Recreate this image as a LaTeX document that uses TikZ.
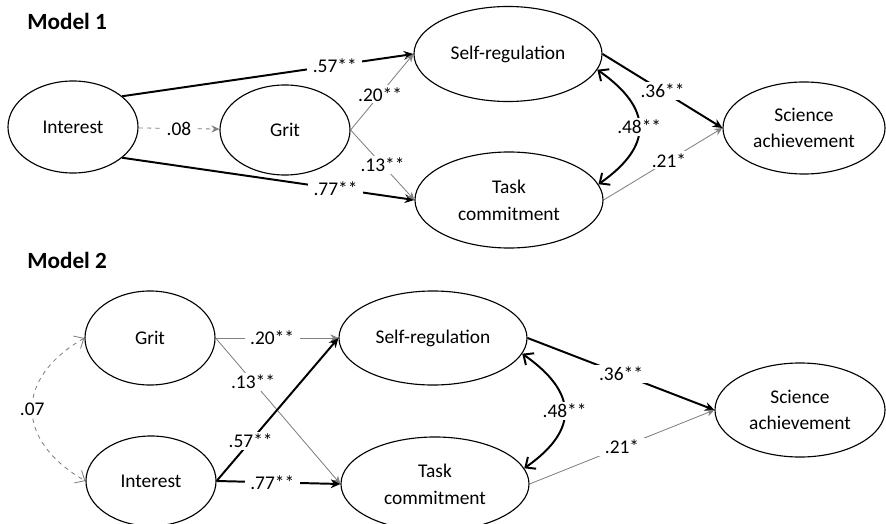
\documentclass[tikz,border=0pt]{standalone}
\usepackage{fontspec}
\setmainfont{Carlito}
\usetikzlibrary{shapes.geometric,arrows.meta}

\begin{document}
\begin{tikzpicture}[x=0.025cm, y=-0.025cm,
    every node/.style={font=\fontsize{13.8}{19}\selectfont},
    latent/.style={ellipse, draw, line width=0.8, inner sep=0pt, align=center},
    coef/.style={fill=white, text=black, inner xsep=4pt, inner ysep=1.5pt},
    strong/.style={-{Stealth[length=2.4mm, width=2.2mm]}, line width=1.4},
    weak/.style={-{Stealth[length=2mm, width=1.8mm]}, line width=0.6, color=gray},
    nonsig/.style={-{Stealth[length=2mm, width=1.8mm]}, dashed, line width=0.6, color=gray},
    covar/.style={{Straight Barb[length=2mm, width=3.6mm]}-{Straight Barb[length=2mm, width=3.6mm]}, line width=1.4},
    nscovar/.style={{Straight Barb[length=2mm, width=3.6mm]}-{Straight Barb[length=2mm, width=3.6mm]}, dashed, line width=0.6, color=gray},
    title/.style={font=\fontsize{16.5}{20}\selectfont\bfseries, anchor=base west, inner sep=0pt}]
      \useasboundingbox (0,0) rectangle (886,524);

      % Model 1
      \node [title] (t1) at (27,30) {Model 1};
      \node [latent, minimum width=3.25cm, minimum height=2.3cm] (int1) at (73,127) {Interest};
      \node [latent, minimum width=3.25cm, minimum height=2.25cm] (grit1) at (285,130) {Grit};
      \node [latent, minimum width=4.7cm, minimum height=2.375cm] (sr1) at (508,54) {Self-regulation};
      \node [latent, minimum width=4.7cm, minimum height=2.4cm] (tc1) at (509,200) {Task\\commitment};
      \node [latent, minimum width=4.05cm, minimum height=2.3cm] (sa1) at (804,128) {Science\\achievement};

      \draw [strong] (int1.32) -- node [coef, pos=0.73] {.57**} (sr1.west);
      \draw [strong] (int1.-32) -- node [coef, pos=0.73] {.77**} (tc1.west);
      \draw [nonsig] (int1) -- node [coef] {.08} (grit1);
      \draw [weak] (grit1.east) -- node [coef, pos=0.47] {.20**} (sr1.west);
      \draw [weak] (grit1.east) -- node [coef, pos=0.5] {.13**} (tc1.west);
      \draw [strong] (sr1.east) -- node [coef] {.36**} (sa1.west);
      \draw [weak] (tc1.east) -- node [coef, pos=0.55] {.21*} (sa1.west);
      \draw [covar] (sr1.-10) to [out=-35, in=35, looseness=1.5] node [coef] {.48**} (tc1.10);

      % Model 2
      \node [title] (t2) at (27,268) {Model 2};
      \node [latent, minimum width=3.25cm, minimum height=2.35cm] (grit2) at (150,338) {Grit};
      \node [latent, minimum width=3.25cm, minimum height=2.25cm] (int2) at (151,481) {Interest};
      \node [latent, minimum width=4.7cm, minimum height=2.35cm] (sr2) at (433,338) {Self-regulation};
      \node [latent, minimum width=4.7cm, minimum height=2.35cm] (tc2) at (435,484) {Task\\commitment};
      \node [latent, minimum width=4.25cm, minimum height=2.35cm] (sa2) at (800,410) {Science\\achievement};

      \draw [nscovar] (grit2.west) to [out=-150, in=150, looseness=1.45] node [coef] {.07} (int2.west);
      \draw [weak] (grit2.east) -- node [coef, pos=0.46] {.20**} (sr2.west);
      \draw [weak] (grit2.east) -- node [coef, pos=0.3] {.13**} (tc2.west);
      \draw [strong] (int2.east) -- node [coef, pos=0.28] {.57**} (sr2.west);
      \draw [strong] (int2.east) -- node [coef, pos=0.45] {.77**} (tc2.west);
      \draw [strong] (sr2.east) -- node [coef] {.36**} (sa2.west);
      \draw [weak] (tc2.east) -- node [coef] {.21*} (sa2.west);
      \draw [covar] (sr2.-10) to [out=-35, in=35, looseness=1.5] node [coef] {.48**} (tc2.10);
    \end{tikzpicture}
\end{document}
